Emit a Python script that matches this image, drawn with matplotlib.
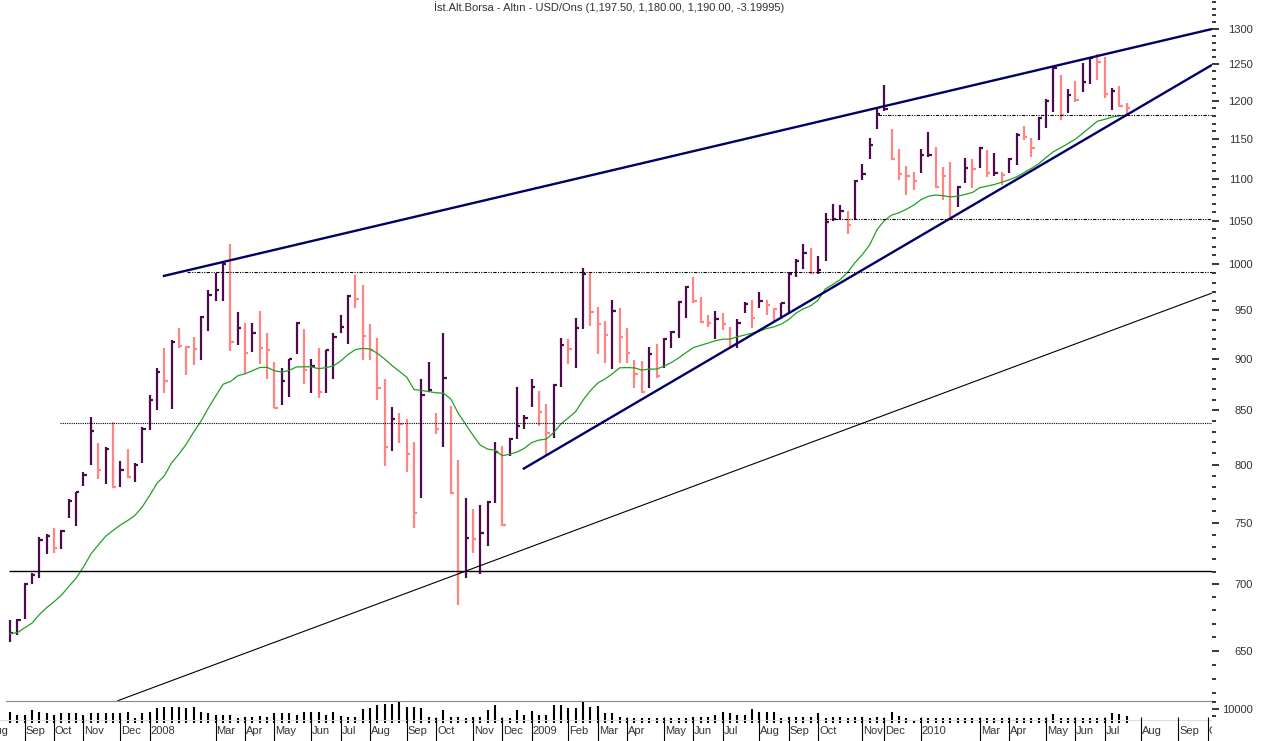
import matplotlib
matplotlib.use("Agg")
import matplotlib.pyplot as plt
import matplotlib.ticker as mticker
from matplotlib.transforms import blended_transform_factory
import numpy as np

plt.rcParams['font.family'] = ['Liberation Sans', 'DejaVu Sans']

title = "İst.Alt.Borsa - Altın - USD/Ons (1,197.50, 1,180.00, 1,190.00, -3.19995)"

# weekly HLC bars, Aug 2007 - Jul 2010
highs = [672.7, 673.5, 701.1, 708.9, 737.9, 740.4, 745.4, 743.7, 769.9, 775.9,
         793.4, 843.5, 819.5, 816.0, 838.9, 803.2, 814.0, 801.4, 834.2, 864.5,
         890.9, 911.0, 919.2, 931.5, 913.0, 922.2, 943.9, 971.9, 990.4, 1001.5,
         1023.0, 948.3, 936.8, 936.8, 949.4, 926.4, 896.9, 890.9, 899.9, 936.8,
         930.5, 899.9, 911.0, 909.0, 926.4, 945.3, 966.4, 988.2, 977.3, 935.7,
         921.2, 880.1, 853.3, 847.3, 841.7, 820.4, 880.1, 896.9, 847.3, 926.4,
         854.0, 804.1, 770.7, 761.3, 764.7, 768.2, 820.4, 816.9, 824.5, 872.5,
         845.5, 880.1, 868.7, 855.6, 875.2, 921.7, 919.8, 942.2, 995.6, 991.9,
         953.2, 939.2, 961.1, 952.2, 931.2, 898.9, 897.9, 911.7, 914.8, 921.7,
         928.4, 959.3, 976.2, 985.9, 964.6, 945.3, 949.8, 947.7, 932.2, 941.4,
         959.3, 961.1, 970.1, 961.1, 952.2, 958.3, 991.2, 1006.6, 1023.0, 1018.8,
         1009.7, 1058.6, 1069.6, 1068.0, 1061.3, 1098.6, 1118.8, 1150.9, 1190.7, 1221.2,
         1162.9, 1137.3, 1116.1, 1108.8, 1136.9, 1159.6, 1139.6, 1114.6, 1120.8, 1090.4,
         1125.5, 1124.3, 1139.6, 1136.3, 1132.5, 1108.8, 1126.3, 1158.3, 1166.2, 1150.9,
         1178.5, 1202.0, 1246.6, 1235.0, 1215.5, 1226.8, 1251.2, 1259.4, 1264.9, 1260.2,
         1216.8, 1219.9, 1197.5]
lows = [656.4, 661.6, 673.5, 700.3, 705.0, 724.1, 724.9, 728.2, 753.7, 747.1,
        781.1, 799.6, 787.2, 782.9, 779.4, 780.3, 788.1, 784.6, 801.4, 831.4,
        850.2, 866.4, 851.1, 911.0, 884.0, 893.9, 898.9, 928.4, 960.0, 960.0,
        908.0, 914.0, 885.0, 907.0, 894.9, 880.1, 852.1, 854.9, 862.6, 905.0,
        875.2, 866.4, 861.6, 866.4, 880.1, 926.4, 915.1, 952.5, 898.9, 898.9,
        859.7, 798.7, 812.5, 819.5, 793.4, 745.4, 770.7, 867.4, 827.7, 816.0,
        775.1, 684.1, 705.0, 724.9, 708.1, 730.6, 766.5, 747.1, 807.7, 823.1,
        832.4, 853.3, 835.2, 808.6, 823.8, 872.5, 894.6, 890.6, 930.1, 933.3,
        905.0, 895.6, 889.9, 895.6, 895.6, 871.0, 867.1, 871.0, 881.3, 890.6,
        910.7, 920.9, 941.6, 958.3, 937.1, 932.7, 920.0, 929.5, 912.2, 910.7,
        947.3, 931.2, 952.2, 945.3, 938.1, 941.4, 947.3, 986.1, 994.9, 989.1,
        989.1, 1003.8, 1049.6, 1050.7, 1034.5, 1050.7, 1098.6, 1124.3, 1163.4, 1186.5,
        1123.4, 1098.6, 1080.4, 1086.5, 1106.9, 1127.6, 1089.2, 1074.4, 1052.7, 1066.4,
        1095.4, 1088.5, 1113.0, 1102.6, 1103.8, 1092.6, 1106.9, 1117.2, 1148.7, 1126.8,
        1148.7, 1164.6, 1184.7, 1174.6, 1183.4, 1198.4, 1212.3, 1222.7, 1228.2, 1203.3,
        1187.8, 1192.2, 1180.0]
closes = [663.1, 673.1, 700.3, 707.3, 735.5, 738.7, 729.0, 742.9, 768.2, 775.9,
          790.8, 830.5, 795.2, 814.0, 780.3, 795.2, 789.0, 799.6, 832.4, 859.7,
          887.0, 878.1, 917.1, 913.0, 912.0, 910.0, 942.9, 966.4, 971.9, 1000.4,
          917.1, 931.5, 906.0, 926.4, 911.0, 909.0, 852.1, 878.1, 899.9, 936.8,
          888.9, 892.9, 867.4, 909.0, 922.2, 932.6, 965.4, 962.1, 923.2, 909.0,
          871.3, 816.0, 841.7, 837.0, 809.5, 758.0, 864.5, 869.3, 832.4, 881.1,
          775.1, 708.9, 737.1, 736.3, 741.3, 767.3, 811.3, 747.9, 823.6, 835.2,
          843.0, 871.9, 848.0, 829.0, 874.2, 914.6, 910.0, 931.2, 989.4, 948.6,
          935.7, 924.3, 949.7, 922.6, 905.6, 884.7, 867.6, 905.0, 883.0, 919.8,
          927.7, 958.6, 975.5, 960.0, 938.1, 936.4, 941.4, 935.7, 913.0, 937.1,
          957.0, 942.2, 960.4, 956.0, 951.1, 957.7, 989.8, 1004.1, 1013.3, 990.2,
          993.8, 1048.0, 1051.5, 1061.6, 1044.5, 1097.8, 1105.8, 1142.8, 1182.3, 1188.6,
          1124.9, 1105.7, 1103.6, 1097.8, 1129.6, 1130.3, 1090.4, 1103.6, 1054.6, 1089.7,
          1113.0, 1112.2, 1138.8, 1107.4, 1106.7, 1104.8, 1124.3, 1155.2, 1153.0, 1138.2,
          1177.7, 1200.1, 1244.4, 1181.1, 1207.8, 1201.1, 1225.7, 1258.0, 1253.5, 1208.5,
          1213.6, 1193.2, 1190.0]
# P = purple (up) bar, K = pink (down) bar
bar_dir = ("PPPPPPKPPP" "PPKPKPKPPP" "PKPKKKPPPP" "KPKPKKKPPP" "KPKPPPPKKK"
           "KKPKKKPPKP" "KKPKPPPKPP" "PPKKPPKPPK" "KKPKKKKPKP" "PPPKKKPKKP"
           "PKPKKPPPPK" "PPPPKPPPPP" "KKKKPPKKKP" "PKPKPKPPKK" "PPPKPKPPKK"
           "PKK")
# green moving average as drawn
ma = [662.7, 663.4, 667.0, 670.5, 676.9, 682.2, 686.7, 691.7, 698.4, 705.0,
      713.7, 724.1, 731.4, 738.5, 743.3, 747.9, 751.6, 756.0, 763.2, 772.9,
      783.5, 790.1, 801.6, 809.5, 818.6, 829.6, 839.8, 852.1, 863.6, 875.0,
      877.6, 883.3, 885.3, 888.3, 891.5, 891.6, 888.2, 886.9, 888.6, 892.0,
      892.2, 892.2, 890.3, 891.3, 893.1, 897.9, 904.4, 909.4, 910.7, 910.0,
      905.7, 899.9, 893.3, 887.7, 881.9, 869.8, 869.0, 867.8, 866.7, 866.3,
      860.7, 847.3, 837.0, 826.8, 817.6, 814.0, 813.1, 808.0, 809.3, 811.3,
      814.7, 819.9, 822.2, 823.1, 829.2, 837.2, 842.8, 848.8, 859.7, 868.8,
      876.2, 880.1, 885.3, 891.2, 891.4, 891.1, 888.9, 889.9, 889.9, 892.7,
      896.4, 900.9, 906.3, 911.4, 913.8, 916.0, 918.5, 920.0, 920.2, 922.5,
      924.3, 926.2, 928.4, 931.0, 932.8, 935.8, 940.5, 947.3, 951.8, 955.0,
      961.1, 973.3, 977.9, 983.2, 991.2, 1001.9, 1011.0, 1021.9, 1039.3, 1050.0,
      1056.5, 1059.2, 1063.4, 1068.2, 1074.9, 1078.9, 1080.4, 1079.6, 1078.1, 1079.0,
      1081.1, 1083.5, 1089.3, 1091.2, 1093.2, 1096.0, 1098.9, 1102.5, 1107.6, 1112.9,
      1118.6, 1126.5, 1133.7, 1138.7, 1144.3, 1149.8, 1157.3, 1165.2, 1173.0, 1175.5,
      1178.5, 1180.2, 1181.0]
volume = [7640, 5710, 5710, 9290, 7640, 6930, 5710, 6930, 6930, 7360,
          5710, 6930, 6930, 6930, 6930, 6930, 8070, 3360, 6930, 8070,
          10500, 11640, 11640, 11640, 10500, 11210, 8070, 6930, 5710, 5710,
          5710, 3360, 4500, 4500, 5000, 4500, 6930, 6930, 6930, 5710,
          8070, 8070, 8070, 5710, 8070, 5000, 4500, 4500, 9790, 10500,
          12860, 13570, 13570, 15210, 11210, 11640, 10500, 4500, 3360, 9290,
          4500, 4500, 3360, 4070, 4070, 9290, 12860, 3360, 3360, 9290,
          5710, 8790, 5710, 5710, 12860, 12860, 10500, 10500, 15210, 11210,
          12360, 7360, 6930, 4500, 3360, 3360, 3360, 3360, 3360, 3360,
          3360, 3360, 3360, 4070, 4070, 4070, 5710, 7640, 6930, 5710,
          5710, 9790, 8070, 8070, 8070, 3360, 4070, 4070, 4500, 4070,
          6930, 3360, 4500, 4000, 3360, 4500, 4500, 3360, 4070, 3360,
          7640, 5000, 3360, 2140, 3360, 3360, 3360, 3360, 3360, 3360,
          3360, 3360, 3360, 3360, 3360, 3360, 3360, 3360, 3360, 3360,
          3360, 3360, 6210, 3360, 3360, 3360, 3360, 3360, 3360, 3360,
          7360, 6210, 5000]

# month separators (bar number of first week) and their labels
month_pos = [-2, 3, 7, 11, 16, 20, 29, 33, 37, 42, 46, 50, 55, 59, 64, 68, 72,
             77, 81, 85, 90, 94, 98, 103, 107, 111, 117, 120, 125, 133, 137, 142,
             146, 150, 155, 160, 164]
month_names = ["Aug", "Sep", "Oct", "Nov", "Dec", "2008", "Mar", "Apr", "May", "Jun",
               "Jul", "Aug", "Sep", "Oct", "Nov", "Dec", "2009", "Feb", "Mar", "Apr",
               "May", "Jun", "Jul", "Aug", "Sep", "Oct", "Nov", "Dec", "2010", "Mar",
               "Apr", "May", "Jun", "Jul", "Aug", "Sep", "Oct"]

# drawn trend lines: (bar, price) start and end
trend_x = [[21.8, 164.6], [70.8, 164.6], [15.7, 164.6]]
trend_y = [[987.0, 1300.0], [796.0, 1249.0], [615.0, 968.6]]
# horizontal support/resistance lines
level_price = [992.0, 838.4, 1052.0, 1181.0, 710.3]
level_start = [25.1, 7.8, 111.9, 119.1, 0.86]

price_ticks = list(range(650, 1301, 50))
price_minor = [p for p in range(620, 1341, 10) if p % 50 != 0]

PURPLE = "#4e0a4e"
PINK = "#ff8585"
NAVY = "#000066"
GREEN = "#22a022"
TXT = "#333333"

W, H = 1263, 741
fig = plt.figure(figsize=(W / 100, H / 100), dpi=100)
px_bar = 7.347
right_px = 1212
x_right = 1 + (right_px - 10) / px_bar

ax = fig.add_axes([5.5 / W, 40 / H, (right_px - 5.5) / W, 701 / H])
axv = fig.add_axes([0, 0, right_px / W, 40 / H])

x = np.arange(1, len(closes) + 1)
cols = [PURPLE if d == "P" else PINK for d in bar_dir]

ax.set_yscale("log")
ax.vlines(x, lows, highs, colors=cols, lw=1.6)
ax.hlines(closes, x - 0.05, x + 0.45, colors=cols, lw=1.6)
ax.plot(x, ma, color=GREEN, lw=0.9)

for xs, ys in zip(trend_x[:2], trend_y[:2]):
    ax.plot(xs, ys, color=NAVY, lw=1.7, solid_capstyle="butt")
ax.plot(trend_x[2], trend_y[2], color="black", lw=0.8)

styles = [(0, (3, 1.2, 1, 1.2, 1, 1.2)), (0, (1, 1)), (0, (3, 1.2, 1, 1.2, 1, 1.2)),
          (0, (3, 1.2, 1, 1.2, 1, 1.2)), "-"]
widths = [0.8, 0.8, 0.8, 0.8, 1.0]
for p, s, ls, lw in zip(level_price, level_start, styles, widths):
    ax.hlines(p, s, x_right, colors="black", linestyles=[ls], lw=lw)

ax.set_xlim(1 + (5.5 - 10) / px_bar, x_right)
ax.set_ylim(1300 * np.exp(29 / 897.3), 1300 * np.exp(-672 / 897.3))
ax.invert_yaxis()
ax.invert_yaxis()
lo, hi = sorted(ax.get_ylim())
ax.set_ylim(lo, hi)

ax.yaxis.tick_right()
ax.yaxis.set_major_locator(mticker.FixedLocator(price_ticks))
ax.yaxis.set_major_formatter(mticker.FixedFormatter([str(p) for p in price_ticks]))
ax.yaxis.set_minor_locator(mticker.FixedLocator(price_minor))
ax.yaxis.set_minor_formatter(mticker.NullFormatter())
ax.tick_params(axis="y", which="major", length=4.8, width=1.1, color="black",
               labelsize=8, labelcolor=TXT, pad=24.6)
ax.tick_params(axis="y", which="minor", length=2.9, width=1.1, color="black")
plt.setp(ax.yaxis.get_majorticklabels(), ha="right")
ax.set_xticks([])
for side in ["top", "left", "right"]:
    ax.spines[side].set_visible(False)
ax.spines["bottom"].set_color("#8c8c8c")
ax.spines["bottom"].set_linewidth(0.8)
ax.patch.set_alpha(0)

# volume strip with month labels
axv.vlines(x, 0, volume, colors="black", lw=1.5)
axv.axhline(2140, color="#dddddd", lw=0.8)
axv.set_xlim(1 + (0 - 10) / px_bar, x_right)
axv.set_ylim(-12857, 15714)
trans = blended_transform_factory(axv.transData, axv.transAxes)
axv.vlines(month_pos, 0, 0.6, colors="black", lw=0.8, transform=trans)
for p, name in zip(month_pos, month_names):
    axv.text(p + 0.12, 0.25, name, transform=trans, fontsize=8, color=TXT,
             ha="left", va="center", clip_on=True)
axv.yaxis.tick_right()
axv.set_yticks([10000])
axv.set_yticklabels(["10000"])
axv.yaxis.set_minor_locator(mticker.FixedLocator([5000, 15000]))
axv.tick_params(axis="y", which="major", length=4.8, width=1.1, color="black",
                labelsize=8, labelcolor=TXT, pad=24.6)
axv.tick_params(axis="y", which="minor", length=2.9, width=1.1, color="black")
plt.setp(axv.yaxis.get_majorticklabels(), ha="right")
axv.set_xticks([])
for side in axv.spines:
    axv.spines[side].set_visible(False)
axv.patch.set_alpha(0)

fig.text(609 / W, 1 - 7 / H, title, ha="center", va="center", fontsize=8, color=TXT)

fig.savefig("out.png", dpi=100)
